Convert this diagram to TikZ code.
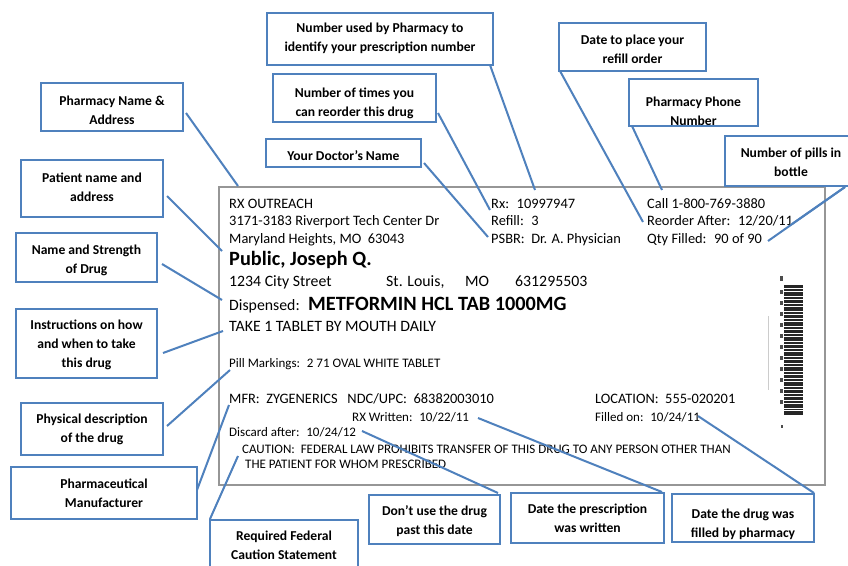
\documentclass[tikz,border=0pt]{standalone}
\usepackage{fontspec}
\setmainfont{Carlito}
\usetikzlibrary{calc}
\definecolor{cblue}{RGB}{79,129,189}
\definecolor{lgray}{RGB}{150,150,150}
\tikzset{
  cbox/.style={draw=cblue, line width=2.4pt, rectangle, inner sep=0pt, outer sep=0pt},
  ctext/.style={font=\fontsize{13.6}{19}\selectfont\bfseries, align=center, inner sep=0pt, text=black},
  conn/.style={draw=cblue, line width=2pt},
  labelbox/.style={draw=lgray, line width=1.3pt, fill=white},
  ta/.style={anchor=base west, inner sep=0pt, font=\fontsize{14.4}{16}\selectfont},
  tb/.style={anchor=base west, inner sep=0pt, font=\fontsize{15.8}{18}\selectfont},
  tc/.style={anchor=base west, inner sep=0pt, font=\fontsize{13}{15}\selectfont},
  tbig/.style={anchor=base west, inner sep=0pt, font=\fontsize{20.3}{24}\selectfont\bfseries},
  bar/.style={fill=black!85, draw=none},
}
\newcommand{\callbox}[7]{%
  \node[cbox, minimum width={(#4-#2)*1pt}, minimum height={(#5-#3)*1pt},
    path picture={\node[ctext, yshift={((#3+#5)/2-#6)*1pt}] (#1-t) at (path picture bounding box.center) {#7};}]
    (#1) at ({(#2+#4)/2},{(#3+#5)/2}) {};}
\begin{document}
\begin{tikzpicture}[x=1pt,y=-1pt]
\useasboundingbox (0,0) rectangle (848,565);
\fill[white] (0,0) rectangle (848,565);

% prescription label
\node[labelbox, minimum width=606pt, minimum height=298pt, inner sep=0pt] (label) at (522,336) {};

% left block
\node[ta] (l1) at (229,208) {RX OUTREACH};
\node[ta] (l2) at (229,225.5) {3171-3183 Riverport Tech Center Dr};
\node[ta] (l3) at (229,243.5) {Maryland Heights, MO~ 63043};
\node[tbig] (l4) at (229,265.5) {Public, Joseph Q.};
\node[tb] (l5a) at (229,286) {1234 City Street};
\node[tb] (l5b) at (386,286) {St. Louis,};
\node[tb] (l5c) at (465,286) {MO};
\node[tb] (l5d) at (515,286) {631295503};
\node[tb] (l6a) at (229,310) {Dispensed:};
\node[tbig] (l6b) at (308,310) {METFORMIN HCL TAB 1000MG};
\node[tb] (l7) at (229,331) {TAKE 1 TABLET BY MOUTH DAILY};
\node[tc] (l8) at (229,367) {Pill Markings:~ 2 71 OVAL WHITE TABLET};
\node[ta] (l9) at (229,403.6) {MFR:~ ZYGENERICS~~ NDC/UPC:~ 68382003010};
\node[tc] (l10) at (352,421) {RX Written:~ 10/22/11};
\node[tc] (l11) at (229,436) {Discard after:~ 10/24/12};
\node[tc] (l12) at (242,453) {CAUTION:~ FEDERAL LAW PROHIBITS TRANSFER OF THIS DRUG TO ANY PERSON OTHER THAN};
\node[tc] (l13) at (245,468) {THE PATIENT FOR WHOM PRESCRIBED};

% middle / right blocks
\node[ta] (r1) at (491,208) {Rx:~ 10997947};
\node[ta] (r2) at (491,225.5) {Refill:~ 3};
\node[ta] (r3) at (491,243.5) {PSBR:~ Dr. A. Physician};
\node[ta] (c1) at (647,208) {Call 1-800-769-3880};
\node[ta] (c2) at (647,225.5) {Reorder After:~ 12/20/11};
\node[ta] (c3) at (647,243.5) {Qty Filled:~ 90 of 90};
\node[ta] (c4) at (595,403.6) {LOCATION:~ 555-020201};
\node[tc] (c5) at (595,421) {Filled on:~ 10/24/11};

% barcode
\foreach \yy/\hh in {285/2.5,289/1.5,292/3.5,297/1.5,300/2.5,304/2,307/3.5,312/1.5,315/2.5,319/1.5,322/3.5,327/1.5,330/2.5,334/1.5,337/4,342/1.5,345/2.5,349/1.5,352/3.5,357/2,360/2.5,364/1.5,367/3.5,372/1.5,375/2.5,379/1.5,382/3.5,387/1.5,390/2.5,394/1.5,397/2.5,401/1.5,404/3.5,409/1,411/4}
  \fill[bar] (784,\yy) rectangle (803,{\yy+\hh});
\foreach \yy in {290,301,312,323,334,345,356,367,378,389,400}
  \fill[black!70] (780,\yy) rectangle (783,{\yy+4});
\fill[black!70] (780,276) rectangle (783,281);
\fill[black!70] (780.5,425) rectangle (782.5,428);
\draw[black!20, line width=0.8pt] (768,316) -- (768,390);

% callout boxes
\callbox{pn}{41}{83}{183}{131}{110}{Pharmacy Name \&\\Address}
\callbox{pa}{21}{160}{163}{217}{187}{Patient name and\\address}
\callbox{ns}{16}{233}{157}{282}{260}{Name and Strength\\of Drug}
\callbox{in}{16}{309}{157}{378}{345}{Instructions on how\\and when to take\\this drug}
\callbox{pd}{21}{403}{163}{455}{429}{Physical description\\of the drug}
\callbox{pm}{11}{467}{197}{519}{493}{Pharmaceutical\\Manufacturer}
\callbox{rf}{210}{520}{358}{590}{545.5}{Required Federal\\Caution Statement}
\callbox{dr}{266}{139}{421}{167}{156}{Your Doctor’s Name}
\callbox{nt}{273}{74}{436}{122}{103.5}{Number of times you\\can reorder this drug}
\callbox{nu}{267}{13}{493}{65}{38}{Number used by Pharmacy to\\identify your prescription number}
\callbox{dp}{559}{23}{706}{71}{49}{Date to place your\\refill order}
\callbox{pp}{629}{79}{758}{126}{111.5}{Pharmacy Phone\\Number}
\callbox{np}{725}{136}{857}{186}{162.5}{Number of pills in\\bottle}
\callbox{du}{369}{495}{500}{544}{521.5}{Don’t use the drug\\past this date}
\callbox{dw}{511}{493}{664}{543}{518.5}{Date the prescription\\was written}
\callbox{df}{672}{494}{814}{542}{524}{Date the drug was\\filled by pharmacy}

% connector end points
\coordinate (pn-s) at (186,113); \coordinate (pn-e) at (238,186);
\coordinate (pa-s) at (167,196); \coordinate (pa-e) at (222,251);
\coordinate (ns-s) at (162,264); \coordinate (ns-e) at (222,300);
\coordinate (in-s) at (163,353); \coordinate (in-e) at (223,331);
\coordinate (pd-s) at (167,426); \coordinate (pd-e) at (230,370);
\coordinate (pm-s) at (197,490); \coordinate (pm-e) at (229,405);
\coordinate (rf-s) at (210,519); \coordinate (rf-e) at (238,456);
\coordinate (dr-s) at (424,163); \coordinate (dr-e) at (488,237);
\coordinate (nt-s) at (438,113); \coordinate (nt-e) at (490,210);
\coordinate (nu-s) at (490,65);  \coordinate (nu-e) at (535,190);
\coordinate (dp-s) at (560,71);  \coordinate (dp-e) at (643,222);
\coordinate (pp-s) at (632,126); \coordinate (pp-e) at (662,190);
\coordinate (np-s) at (845,187); \coordinate (np-e) at (768,241); \coordinate (np-f) at (792,224);
\coordinate (du-s) at (498,493); \coordinate (du-e) at (362,431);
\coordinate (dw-s) at (662,492); \coordinate (dw-e) at (478,418);
\coordinate (df-s) at (814,493); \coordinate (df-e) at (698,416);

\foreach \c in {pn,pa,ns,in,pd,pm,rf,dr,nt,nu,dp,pp,np,du,dw,df}
  \draw[conn] (\c-s) -- (\c-e);
\draw[conn] (np-s) -- (np-f);
\end{tikzpicture}
\end{document}
